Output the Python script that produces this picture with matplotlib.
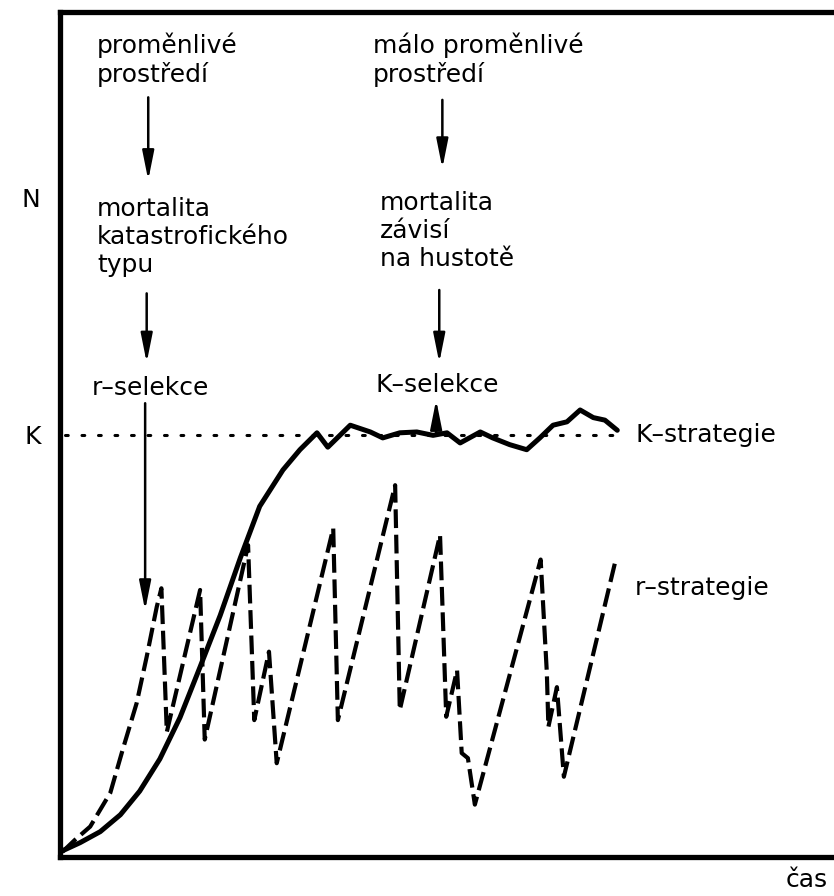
import matplotlib

matplotlib.use("Agg")

import matplotlib.pyplot as plt

# population size N over time (arbitrary units, K = 50)
K_LEVEL = 50

k_time = [0.0, 2.6, 5.2, 7.8, 10.3, 12.9, 15.5, 18.1, 20.7, 23.3, 25.8, 28.8, 31.0,
          33.2, 34.6, 37.5, 40.1, 41.7, 43.9, 46.1, 48.2, 50.0, 51.7, 54.3, 55.9,
          58.1, 60.3, 62.0, 63.7, 65.5, 67.2, 68.9, 70.4, 72.0]
k_size = [0.6, 1.7, 3.0, 5.0, 7.8, 11.6, 16.5, 22.5, 28.6, 35.4, 41.5, 45.8, 48.2,
          50.2, 48.5, 51.1, 50.3, 49.6, 50.2, 50.3, 49.9, 50.2, 49.0, 50.3, 49.6,
          48.8, 48.2, 49.6, 51.1, 51.5, 52.9, 52.0, 51.7, 50.5]

r_time = [0.3, 1.9, 3.9, 6.5, 8.1, 9.9, 11.2, 12.5, 13.1, 13.8, 18.1, 18.7, 24.3,
          25.1, 27.0, 28.0, 35.3, 35.9, 43.3, 43.9, 49.1, 49.9, 51.3, 51.9, 52.7,
          53.6, 62.1, 62.9, 63.1, 64.2, 65.1, 71.7]
r_size = [0.6, 2.0, 3.6, 7.6, 12.7, 18.2, 23.7, 29.6, 31.8, 14.8, 31.6, 13.9, 36.9,
          16.2, 24.3, 11.1, 38.9, 16.2, 44.0, 17.4, 38.1, 16.6, 22.1, 12.3, 11.7,
          6.2, 35.2, 21.8, 15.4, 20.1, 9.5, 34.8]

ytick_pos = [K_LEVEL, 78]
ytick_labels = ["K", "N"]

FONT = "DejaVu Sans"
FS = 18

fig = plt.figure(figsize=(8.34, 8.96), dpi=100, facecolor="white")
ax = fig.add_axes([60 / 834, 39 / 896, 774 / 834, 845 / 896])
ax.set_xlim(0, 100)
ax.set_ylim(0, 100)

ax.spines["right"].set_visible(False)
for side in ["left", "top", "bottom"]:
    ax.spines[side].set_linewidth(3.8)

ax.set_xticks([])
ax.set_yticks(ytick_pos)
ax.set_yticklabels(ytick_labels, fontsize=FS, family=FONT)
ax.tick_params(axis="y", length=0, pad=14)

# carrying capacity
ax.plot([0.6, 72], [K_LEVEL, K_LEVEL], color="black", lw=2.2, linestyle=(0, (0.9, 4.5)),
        dash_capstyle="round")

ax.plot(k_time, k_size, color="black", lw=3.6, solid_joinstyle="round", solid_capstyle="round")
ax.plot(r_time, r_size, color="black", lw=3.0, dashes=(4.5, 1.6))

ax.text(74.3, K_LEVEL, "K–strategie", fontsize=FS, family=FONT, va="center")
ax.text(74.2, 31.8, "r–strategie", fontsize=FS, family=FONT, va="center")
ax.text(93.8, -2.7, "čas", fontsize=FS, family=FONT, va="center", clip_on=False)

texts = [
    (4.8, 94.3, "proměnlivé\nprostředí"),
    (40.4, 94.3, "málo proměnlivé\nprostředí"),
    (4.8, 73.4, "mortalita\nkatastrofického\ntypu"),
    (41.3, 74.1, "mortalita\nzávisí\nna hustotě"),
    (4.1, 55.5, "r–selekce"),
    (40.7, 55.9, "K–selekce"),
]
for x, y, s in texts:
    ax.text(x, y, s, fontsize=FS, family=FONT, va="center", ha="left", linespacing=1.2)

arrows = [
    ((11.4, 89.9), (11.4, 80.1)),
    ((11.2, 66.7), (11.2, 58.5)),
    ((11.0, 53.7), (11.0, 29.2)),
    ((49.4, 89.6), (49.4, 81.5)),
    ((49.0, 67.1), (49.0, 58.5)),
    ((48.6, 50.2), (48.6, 54.1)),
]
for start, end in arrows:
    ax.annotate("", xy=end, xytext=start,
                arrowprops=dict(arrowstyle="-|>,head_length=1.1,head_width=0.22",
                                color="black", lw=1.8, shrinkA=0, shrinkB=0,
                                mutation_scale=16))

fig.savefig("out.png", dpi=100, facecolor="white")
